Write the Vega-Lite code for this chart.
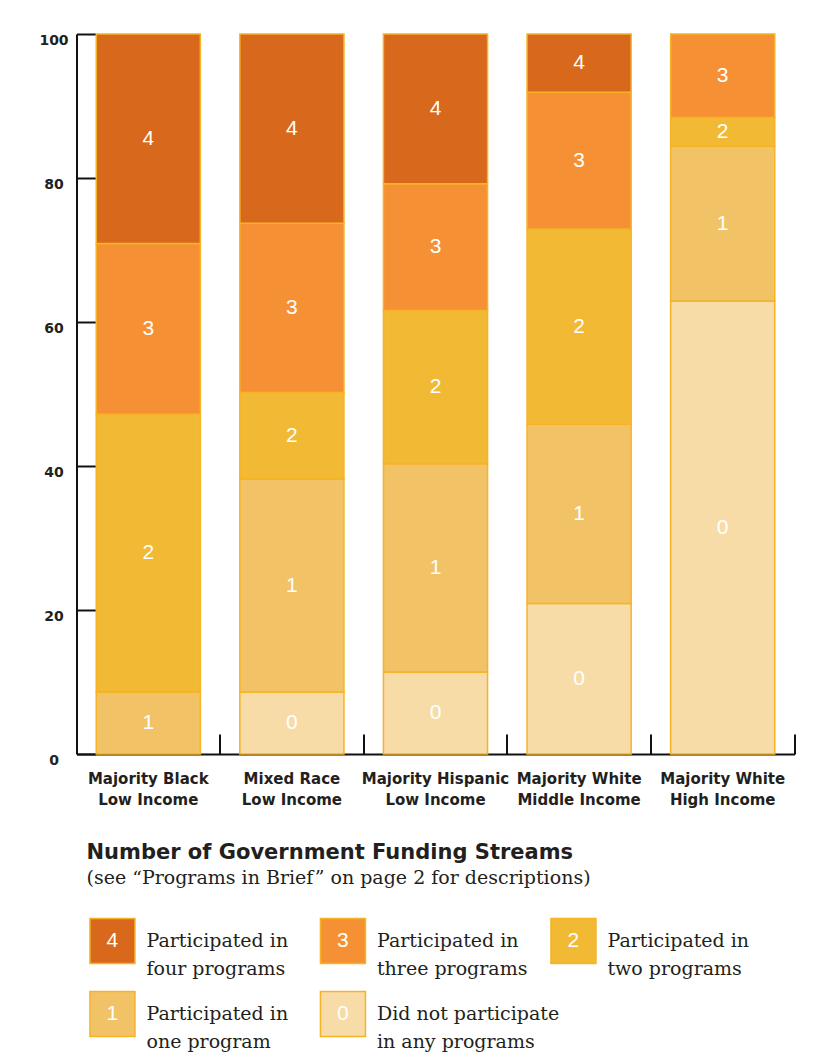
{
  "$schema": "https://vega.github.io/schema/vega-lite/v6.json",
  "background": "white",
  "padding": {"left": 38.5, "top": 33, "right": 5, "bottom": 5},
  "spacing": 35,
  "config": {
    "view": {"stroke": null},
    "font": "DejaVu Sans"
  },
  "vconcat": [
    {
      "width": 718,
      "height": 720,
      "data": {
        "values": [
          {"group": "Majority Black|Low Income", "programs": 1, "share": 8.6},
          {"group": "Majority Black|Low Income", "programs": 2, "share": 38.6},
          {"group": "Majority Black|Low Income", "programs": 3, "share": 23.7},
          {"group": "Majority Black|Low Income", "programs": 4, "share": 29.1},
          {"group": "Mixed Race|Low Income", "programs": 0, "share": 8.6},
          {"group": "Mixed Race|Low Income", "programs": 1, "share": 29.6},
          {"group": "Mixed Race|Low Income", "programs": 2, "share": 12.0},
          {"group": "Mixed Race|Low Income", "programs": 3, "share": 23.5},
          {"group": "Mixed Race|Low Income", "programs": 4, "share": 26.3},
          {"group": "Majority Hispanic|Low Income", "programs": 0, "share": 11.4},
          {"group": "Majority Hispanic|Low Income", "programs": 1, "share": 28.9},
          {"group": "Majority Hispanic|Low Income", "programs": 2, "share": 21.3},
          {"group": "Majority Hispanic|Low Income", "programs": 3, "share": 17.6},
          {"group": "Majority Hispanic|Low Income", "programs": 4, "share": 20.8},
          {"group": "Majority White|Middle Income", "programs": 0, "share": 20.9},
          {"group": "Majority White|Middle Income", "programs": 1, "share": 24.9},
          {"group": "Majority White|Middle Income", "programs": 2, "share": 27.1},
          {"group": "Majority White|Middle Income", "programs": 3, "share": 19.0},
          {"group": "Majority White|Middle Income", "programs": 4, "share": 8.1},
          {"group": "Majority White|High Income", "programs": 0, "share": 62.9},
          {"group": "Majority White|High Income", "programs": 1, "share": 21.5},
          {"group": "Majority White|High Income", "programs": 2, "share": 4.0},
          {"group": "Majority White|High Income", "programs": 3, "share": 11.6}
        ]
      },
      "encoding": {
        "x": {
          "field": "group",
          "type": "nominal",
          "sort": null,
          "scale": {"paddingInner": 0.275, "paddingOuter": 0.1375},
          "axis": {
            "title": null,
            "labelExpr": "split(datum.label, '|')",
            "labelAngle": 0,
            "labelFont": "DejaVu Sans",
            "labelFontWeight": "bold",
            "labelFontSize": 15,
            "labelColor": "#231F20",
            "labelLineHeight": 21,
            "labelBaseline": "top",
            "labelPadding": 37,
            "domainColor": "#111111",
            "domainWidth": 2,
            "tickColor": "#111111",
            "tickWidth": 2,
            "tickSize": -20,
            "bandPosition": 1.19
          }
        }
      },
      "layer": [
        {
          "mark": {"type": "bar", "stroke": "#F5B325", "strokeWidth": 1.5},
          "encoding": {
            "y": {
              "field": "share",
              "type": "quantitative",
              "stack": "zero",
              "scale": {"domain": [0, 100], "nice": false},
              "axis": {
                "values": [0, 20, 40, 60, 80, 100],
                "title": null,
                "grid": false,
                "labelFont": "DejaVu Sans",
                "labelFontWeight": "bold",
                "labelFontSize": 14,
                "labelColor": "#231F20",
                "labelAlign": "center",
                "labelBaseline": "middle",
                "labelPadding": 42,
                "labelOffset": 6.5,
                "labelFlush": false,
                "domainColor": "#111111",
                "domainWidth": 2,
                "tickColor": "#111111",
                "tickWidth": 2,
                "tickSize": -19
              }
            },
            "color": {
              "field": "programs",
              "type": "nominal",
              "scale": {
                "domain": [0, 1, 2, 3, 4],
                "range": ["#F7DCA7", "#F2C266", "#F2B934", "#F59134", "#D8691C"]
              },
              "legend": null
            },
            "order": {"field": "programs", "sort": "ascending"}
          }
        },
        {
          "mark": {"type": "text", "color": "white", "fontSize": 21, "font": "Liberation Sans"},
          "encoding": {
            "y": {"field": "share", "type": "quantitative", "stack": "zero", "bandPosition": 0.5},
            "detail": {"field": "programs"},
            "text": {"field": "programs"},
            "order": {"field": "programs", "sort": "ascending"}
          }
        }
      ]
    },
    {
      "width": 718,
      "height": 145,
      "title": {
        "text": "Number of Government Funding Streams",
        "subtitle": "(see “Programs in Brief” on page 2 for descriptions)",
        "anchor": "start",
        "dx": 10,
        "font": "DejaVu Sans",
        "fontWeight": "bold",
        "fontSize": 21,
        "color": "#231F20",
        "subtitleFont": "DejaVu Serif",
        "subtitleFontSize": 19,
        "subtitleColor": "#231F20",
        "subtitlePadding": 6,
        "offset": 18
      },
      "data": {
        "values": [
          {"programs": 4, "col": 1, "row": 1, "lines": ["Participated in", "four programs"]},
          {"programs": 3, "col": 2, "row": 1, "lines": ["Participated in", "three programs"]},
          {"programs": 2, "col": 3, "row": 1, "lines": ["Participated in", "two programs"]},
          {"programs": 1, "col": 1, "row": 2, "lines": ["Participated in", "one program"]},
          {"programs": 0, "col": 2, "row": 2, "lines": ["Did not participate", "in any programs"]}
        ]
      },
      "encoding": {
        "x": {
          "field": "col",
          "type": "quantitative",
          "scale": {"domain": [0.844, 3.959], "nice": false, "zero": false},
          "axis": null
        },
        "y": {
          "field": "row",
          "type": "quantitative",
          "scale": {"domain": [0.5205, 2.5068], "reverse": true, "nice": false, "zero": false},
          "axis": null
        }
      },
      "layer": [
        {
          "mark": {"type": "square", "size": 2025, "filled": true, "opacity": 1, "stroke": "#F5B325", "strokeWidth": 1.5},
          "encoding": {
            "color": {"field": "programs", "type": "nominal", "legend": null}
          }
        },
        {
          "mark": {"type": "text", "color": "white", "fontSize": 21, "font": "Liberation Sans"},
          "encoding": {"text": {"field": "programs"}}
        },
        {
          "mark": {"type": "text", "align": "left", "baseline": "middle", "dx": 34, "font": "DejaVu Serif", "fontSize": 19, "lineHeight": 28, "color": "#231F20"},
          "encoding": {"text": {"field": "lines"}}
        }
      ]
    }
  ]
}
